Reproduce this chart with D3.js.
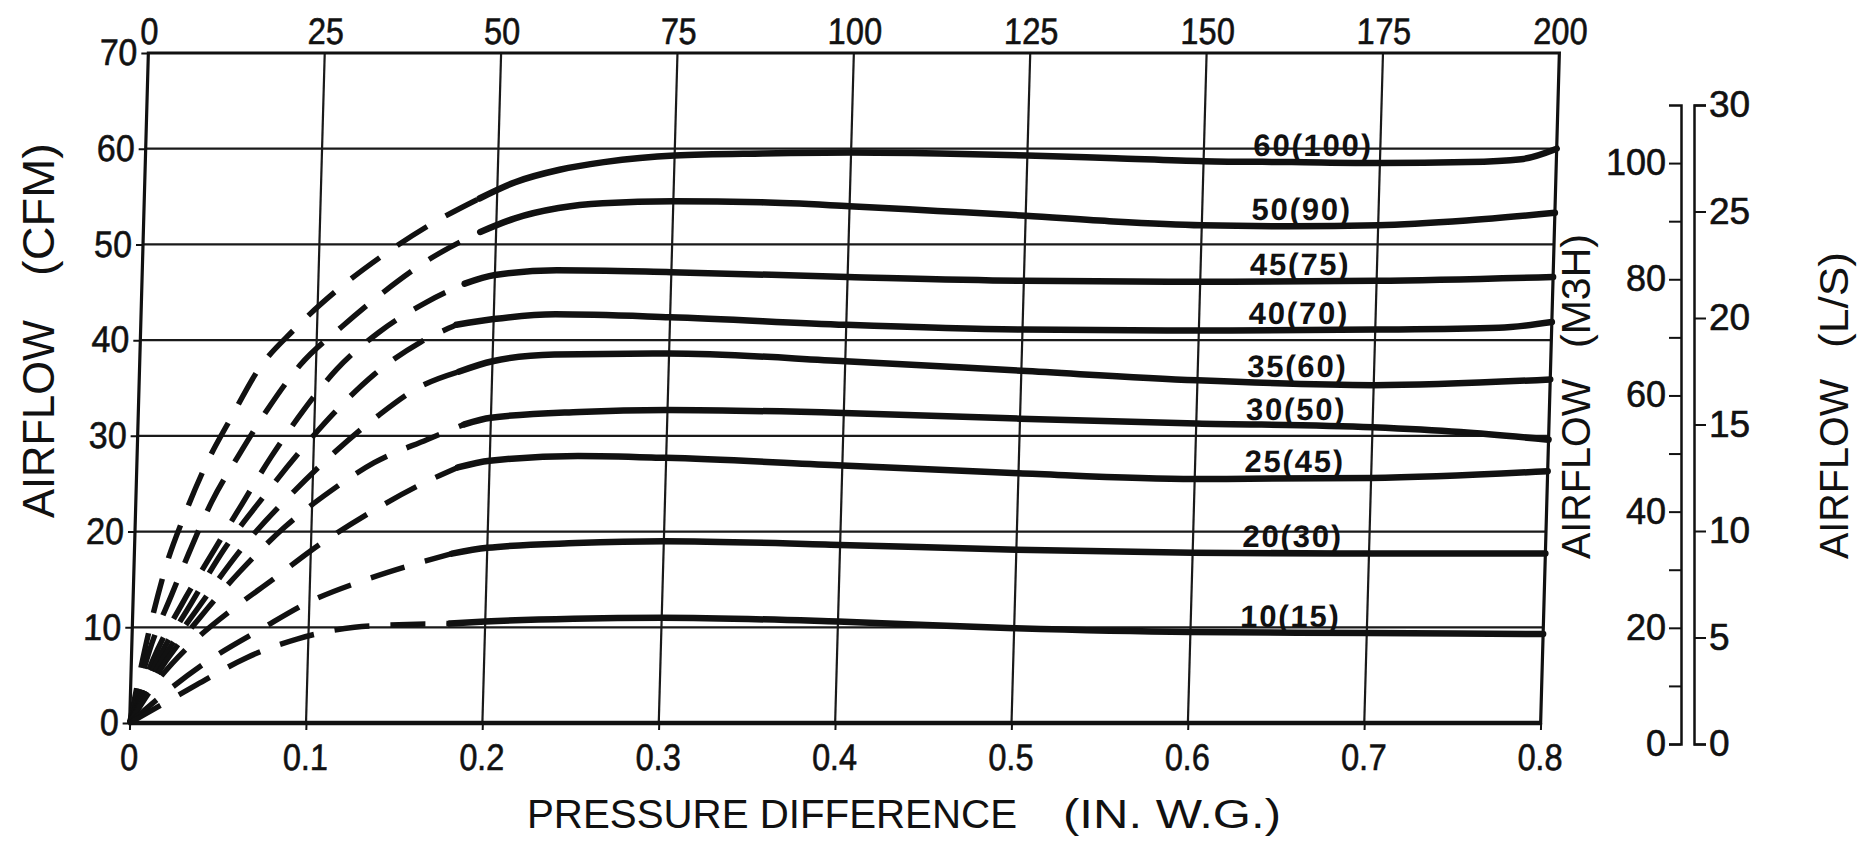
<!DOCTYPE html>
<html>
<head>
<meta charset="utf-8">
<script src="https://cdn.jsdelivr.net/npm/d3@7"></script>
<style>
  html, body { margin: 0; padding: 0; background: #fff; }
  svg { display: block; }
  text { font-family: "Liberation Sans", Arial, sans-serif; fill: #111; }
</style>
</head>
<body>
<div id="chart"></div>
<script>
// axis ticks
var pressureTicks = [0, 0.1, 0.2, 0.3, 0.4, 0.5, 0.6, 0.7, 0.8];
var topTicks = [0, 25, 50, 75, 100, 125, 150, 175, 200];
var cfmTicks = [0, 10, 20, 30, 40, 50, 60, 70];
var m3hTicks = [0, 20, 40, 60, 80, 100];
var m3hMinor = [10, 30, 50, 70, 90];
var lsTicks = [0, 5, 10, 15, 20, 25, 30];

var curveNames = ["60(100)", "50(90)", "45(75)", "40(70)", "35(60)", "30(50)", "25(45)", "20(30)", "10(15)"];

// dashed part of each curve, [pressure in. w.g., airflow cfm]
var dash60 = [[0,0],[0.010,10.0],[0.018,16.3],[0.028,21.8],[0.039,26.9],[0.053,32.0],[0.067,36.8],[0.087,41.1],[0.110,45.1],[0.135,48.7],[0.161,51.9],[0.19,54.8]];
var dash50 = [[0,0],[0.010,7.5],[0.022,13.5],[0.031,17.8],[0.043,23.1],[0.058,28.1],[0.073,32.7],[0.091,37.4],[0.114,41.4],[0.137,45.0],[0.163,48.5],[0.191,51.3]];
var dash45 = [[0,0],[0.012,6.5],[0.028,12.5],[0.045,18.0],[0.060,22.8],[0.076,27.8],[0.093,32.5],[0.112,37.0],[0.135,40.8],[0.162,44.0],[0.183,45.9]];
var dash40 = [[0,0],[0.012,5.5],[0.033,12.5],[0.051,18.2],[0.073,23.8],[0.092,28.3],[0.111,32.4],[0.133,36.4],[0.159,39.8],[0.179,41.6]];
var dash35 = [[0,0],[0.012,4.8],[0.038,12.3],[0.065,19.2],[0.089,24.1],[0.112,28.3],[0.136,32.1],[0.160,35.2],[0.181,36.7]];
var dash30 = [[0,0],[0.012,4.2],[0.042,11.9],[0.060,15.8],[0.085,20.5],[0.110,24.2],[0.1345,27.2],[0.164,29.6],[0.185,31.2]];
var dash25 = [[0,0],[0.012,3.6],[0.035,8.5],[0.058,12.1],[0.079,15.0],[0.100,18.0],[0.133,22.0],[0.161,24.9],[0.182,26.7]];
var dash20 = [[0,0],[0.024,3.8],[0.046,6.8],[0.073,9.8],[0.1005,12.7],[0.129,14.8],[0.159,16.6],[0.18,17.7]];
var dash10 = [[0,0],[0.0375,4.0],[0.065,6.8],[0.094,8.8],[0.126,10.0],[0.156,10.3],[0.18,10.4]];

// solid part of each curve
var solid60 = [[0.19,54.8],[0.21,56.5],[0.235,57.8],[0.26,58.6],[0.3,59.3],[0.35,59.5],[0.4,59.6],[0.45,59.5],[0.5,59.3],[0.55,59.0],[0.6,58.7],[0.65,58.6],[0.7,58.5],[0.75,58.6],[0.78,58.9],[0.8,60.0]];
var solid50 = [[0.191,51.3],[0.21,52.7],[0.235,53.8],[0.26,54.3],[0.3,54.5],[0.35,54.4],[0.4,54.0],[0.45,53.5],[0.5,53.0],[0.55,52.4],[0.6,52.0],[0.65,51.9],[0.7,52.0],[0.75,52.5],[0.8,53.3]];
var solid45 = [[0.183,45.9],[0.2,46.8],[0.235,47.3],[0.3,47.1],[0.4,46.6],[0.5,46.2],[0.6,46.1],[0.7,46.2],[0.8,46.6]];
var solid40 = [[0.179,41.6],[0.2,42.2],[0.235,42.7],[0.3,42.4],[0.4,41.6],[0.5,41.1],[0.6,41.0],[0.7,41.1],[0.77,41.3],[0.8,41.9]];
var solid35 = [[0.181,36.7],[0.2,37.8],[0.235,38.5],[0.3,38.6],[0.4,37.8],[0.5,36.8],[0.6,35.8],[0.7,35.3],[0.8,35.9]];
var solid30 = [[0.185,31.2],[0.2,31.9],[0.25,32.5],[0.3,32.7],[0.4,32.4],[0.5,31.8],[0.6,31.3],[0.7,30.9],[0.75,30.4],[0.8,29.6]];
var solid25 = [[0.182,26.7],[0.2,27.4],[0.25,27.9],[0.3,27.7],[0.4,26.9],[0.5,26.1],[0.6,25.5],[0.7,25.6],[0.8,26.3]];
var solid20 = [[0.18,17.7],[0.2,18.3],[0.25,18.8],[0.3,19.0],[0.4,18.6],[0.5,18.1],[0.6,17.8],[0.7,17.7],[0.8,17.7]];
var solid10 = [[0.18,10.4],[0.2,10.6],[0.25,10.9],[0.3,11.0],[0.4,10.6],[0.5,9.9],[0.6,9.5],[0.7,9.4],[0.8,9.3]];

var dashes = [dash60, dash50, dash45, dash40, dash35, dash30, dash25, dash20, dash10];
var solids = [solid60, solid50, solid45, solid40, solid35, solid30, solid25, solid20, solid10];
var series = curveNames.map(function(name, i){
    return {name: name, dash: dashes[i], solid: solids[i]};
});

var width = 1866, height = 845;
var ink = "#111";

var svg = d3.select("#chart").append("svg")
    .attr("width", width)
    .attr("height", height);

svg.append("rect").attr("width", width).attr("height", height).attr("fill", "#fff");

// the scanned sheet is slightly sheared, so the plot is too
var skewDeg = -1.6;
var skewK = Math.tan(-skewDeg * Math.PI / 180);
var plot = svg.append("g")
    .attr("transform", "translate(" + (skewK * 388) + ",0) skewX(" + skewDeg + ")");

var x = d3.scaleLinear().domain([0, 0.8]).range([139, 1550]);
var xTop = d3.scaleLinear().domain([0, 200]).range([139, 1550]);
var y = d3.scaleLinear().domain([0, 70]).range([723, 53]);

// narrow the tick numbers a little
function squeeze(sel, k){
    sel.each(function(){
        var w = this.getComputedTextLength();
        d3.select(this).attr("textLength", w * k).attr("lengthAdjust", "spacingAndGlyphs");
    });
}

function styleAxis(g, size){
    g.attr("font-family", "Liberation Sans, Arial, sans-serif").attr("font-size", size);
    g.selectAll(".tick line").attr("stroke", ink).attr("stroke-width", 2);
    g.selectAll(".tick text")
        .attr("fill", ink)
        .attr("stroke", ink)
        .attr("stroke-width", 0.6);
}

// grid
plot.append("g").selectAll("line")
    .data(pressureTicks.slice(1, -1))
    .join("line")
    .attr("x1", function(d){ return x(d); })
    .attr("x2", function(d){ return x(d); })
    .attr("y1", y(0))
    .attr("y2", y(70))
    .attr("stroke", "#1a1a1a")
    .attr("stroke-width", 2.2);

plot.append("g").selectAll("line")
    .data(cfmTicks.slice(1, -1))
    .join("line")
    .attr("x1", x(0))
    .attr("x2", x(0.8))
    .attr("y1", function(d){ return y(d); })
    .attr("y2", function(d){ return y(d); })
    .attr("stroke", "#1a1a1a")
    .attr("stroke-width", 2.2);

plot.append("rect")
    .attr("x", x(0))
    .attr("y", y(70))
    .attr("width", x(0.8) - x(0))
    .attr("height", y(0) - y(70))
    .attr("fill", "none")
    .attr("stroke", ink)
    .attr("stroke-width", 3.2);

plot.append("line")
    .attr("x1", x(0) - 1).attr("x2", x(0.8) + 1)
    .attr("y1", y(0)).attr("y2", y(0))
    .attr("stroke", ink)
    .attr("stroke-width", 4.5);

// axes
var topAxis = plot.append("g")
    .attr("transform", "translate(0," + y(70) + ")")
    .call(d3.axisTop(xTop).tickValues(topTicks).tickSize(0).tickPadding(9));
topAxis.select(".domain").remove();
styleAxis(topAxis, 37);
squeeze(topAxis.selectAll(".tick text"), 0.88);

var bottomAxis = plot.append("g")
    .attr("transform", "translate(0," + y(0) + ")")
    .call(d3.axisBottom(x).tickValues(pressureTicks)
        .tickFormat(function(d){ return d === 0 ? "0" : d.toFixed(1); })
        .tickSize(7).tickPadding(14));
bottomAxis.select(".domain").remove();
styleAxis(bottomAxis, 37);
squeeze(bottomAxis.selectAll(".tick text"), 0.88);

var leftAxis = plot.append("g")
    .attr("transform", "translate(" + x(0) + ",0)")
    .call(d3.axisLeft(y).tickValues(cfmTicks).tickSize(7).tickPadding(4));
leftAxis.select(".domain").remove();
styleAxis(leftAxis, 37);
squeeze(leftAxis.selectAll(".tick text"), 0.92);

// curves
var line = d3.line()
    .x(function(d){ return x(d[0]); })
    .y(function(d){ return y(d[1]); })
    .curve(d3.curveMonotoneX);

function valueAt(pts, p){
    for(var i = 1; i < pts.length; i++){
        if(pts[i][0] >= p){
            var a = pts[i-1], b = pts[i];
            return a[1] + (b[1] - a[1]) * (p - a[0]) / (b[0] - a[0]);
        }
    }
    return pts[pts.length - 1][1];
}

series.forEach(function(s){
    plot.append("path")
        .attr("d", line(s.dash))
        .attr("fill", "none")
        .attr("stroke", ink)
        .attr("stroke-width", 5.5)
        .attr("stroke-dasharray", "35,21");

    plot.append("path")
        .attr("d", line(s.solid))
        .attr("fill", "none")
        .attr("stroke", ink)
        .attr("stroke-width", 6.5)
        .attr("stroke-linecap", "round");

    plot.append("text")
        .attr("x", x(0.628))
        .attr("y", y(valueAt(s.solid, 0.665)) - 6)
        .attr("font-size", 31)
        .attr("font-weight", "bold")
        .attr("letter-spacing", 1.8)
        .text(s.name);
});

// right hand scales
var yM3h = d3.scaleLinear().domain([0, 110]).range([744, 105]);
var yLs = d3.scaleLinear().domain([0, 30]).range([744, 105]);

var m3hAxis = svg.append("g")
    .attr("transform", "translate(1681,0)")
    .call(d3.axisLeft(yM3h).tickValues(m3hTicks).tickSize(12).tickSizeOuter(12).tickPadding(3));
svg.append("g")
    .attr("transform", "translate(1681,0)")
    .call(d3.axisLeft(yM3h).tickValues(m3hMinor).tickSize(12).tickFormat(""))
    .call(function(g){
        g.select(".domain").remove();
        g.selectAll(".tick line").attr("stroke", ink).attr("stroke-width", 2);
    });
m3hAxis.select(".domain").attr("stroke", ink).attr("stroke-width", 2.5);
styleAxis(m3hAxis, 36);

var lsAxis = svg.append("g")
    .attr("transform", "translate(1694,0)")
    .call(d3.axisRight(yLs).tickValues(lsTicks).tickSize(12).tickSizeOuter(12).tickPadding(3));
lsAxis.select(".domain").attr("stroke", ink).attr("stroke-width", 2.5);
styleAxis(lsAxis, 37);

// titles
function rotTitle(tx, ty, str, len, size){
    svg.append("text")
        .attr("transform", "translate(" + tx + "," + ty + ") rotate(-90)")
        .attr("font-size", size)
        .attr("textLength", len)
        .attr("lengthAdjust", "spacingAndGlyphs")
        .text(str);
}

rotTitle(54, 518, "AIRFLOW", 198, 44);
rotTitle(54, 276, "(CFM)", 133, 44);

rotTitle(1590, 559, "AIRFLOW", 180, 40);
rotTitle(1590, 348, "(M3H)", 114, 40);

rotTitle(1848, 559, "AIRFLOW", 180, 40);
rotTitle(1848, 348, "(L/S)", 96, 40);

svg.append("text")
    .attr("x", 527)
    .attr("y", 828)
    .attr("font-size", 40)
    .attr("textLength", 490)
    .attr("lengthAdjust", "spacingAndGlyphs")
    .text("PRESSURE DIFFERENCE");

svg.append("text")
    .attr("x", 1063)
    .attr("y", 828)
    .attr("font-size", 41)
    .attr("textLength", 218)
    .attr("lengthAdjust", "spacingAndGlyphs")
    .text("(IN. W.G.)");
</script>
</body>
</html>
